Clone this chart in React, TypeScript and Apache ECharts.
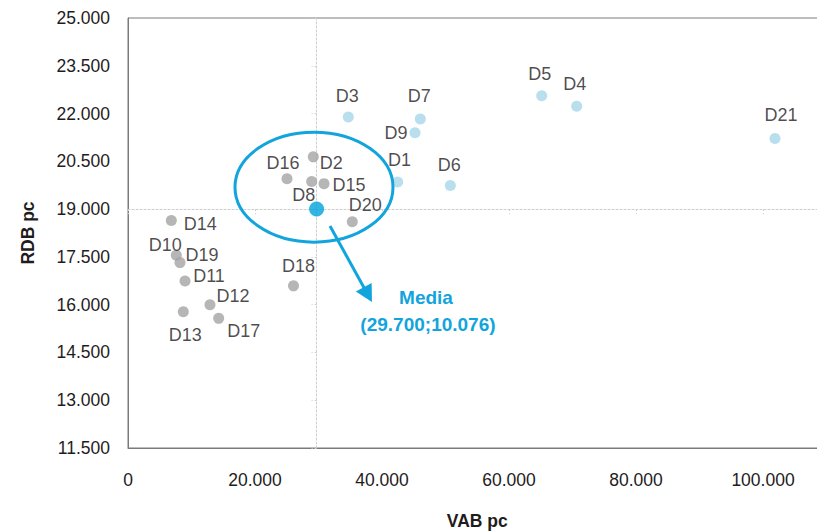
import React, { useEffect, useRef } from 'react';
import * as echarts from 'echarts';

// ---- data ----
const names = ['D1', 'D2', 'D3', 'D4', 'D5', 'D6', 'D7', 'D8', 'D9', 'D10', 'D11', 'D12', 'D13', 'D14', 'D15', 'D16', 'D17', 'D18', 'D19', 'D20', 'D21'];
const vabPc = [42460, 29180, 34690, 70660, 65150, 50760, 46030, 28930, 45200, 7610, 8980, 12910, 8710, 6820, 30870, 25040, 14280, 26060, 8190, 35320, 101890];
const rdbPc = [19850, 20640, 21890, 22230, 22560, 19740, 21830, 19870, 21400, 17550, 16740, 16000, 15780, 18640, 19800, 19950, 15570, 16590, 17320, 18600, 21220];
// districts drawn in light blue (the rest are grey)
const highlighted = ['D1', 'D3', 'D4', 'D5', 'D6', 'D7', 'D9', 'D21'];
const meanPoint = [29700, 19000];
const meanTitle = 'Media';
const meanValueText = '(29.700;10.076)';
const xAxisTitle = 'VAB pc';
const yAxisTitle = 'RDB pc';
const xMin = 0;
const xMax = 110000;
const xStep = 20000;
const yMin = 11500;
const yMax = 25000;
const yStep = 1500;

// ---- label placement (offset of each name label from its point, px) ----
const labelOffsets: Record<string, [number, number]> = {
  D1: [2, -22], D2: [18, 6], D3: [-1, -21], D4: [-2, -22], D5: [-2, -22], D6: [-1, -21],
  D7: [-1, -23], D8: [-8, 14], D9: [-19, 0], D10: [-11, -10], D11: [24, -5], D12: [23, -9],
  D13: [2, 23], D14: [29, 3], D15: [25, 1], D16: [-4, -16], D17: [25, 13], D18: [5, -20],
  D19: [22, -8], D20: [13, -17], D21: [6, -23],
};

const FONT = '"Liberation Sans", Arial, Helvetica, sans-serif';
const BLUE = '#12a4dc';
const LIGHT = '#a8d6e9';
const GRAY = '#a4a4a4';
const TEXT = '#1f1c1d';
const AXIS = '#7a7a7a';
const DOT = '#cfcfcf';

const fmt = (v: number) =>
  v === 0 ? '0' : Math.round(v).toString().replace(/\B(?=(\d{3})+(?!\d))/g, '.');

const GRID = { left: 128, top: 18, width: 698.5, height: 430 };

export default function App() {
  const ref = useRef<HTMLDivElement>(null);

  useEffect(() => {
    if (!ref.current) return;
    const chart = echarts.init(ref.current, null, { renderer: 'svg' });

    const points = names.map((n, i) => ({
      name: n,
      value: [vabPc[i], rdbPc[i]],
      itemStyle: { color: highlighted.includes(n) ? LIGHT : GRAY },
      label: { offset: labelOffsets[n] || [0, -20] },
    }));

    const xCrossOffset = -(GRID.height * (meanPoint[1] - yMin)) / (yMax - yMin);
    const yCrossOffset = -(GRID.width * (meanPoint[0] - xMin)) / (xMax - xMin);

    const crossLine = { show: true, onZero: false, lineStyle: { color: DOT, type: [2, 2], width: 1 } };
    const crossTick = { show: true, length: 5, lineStyle: { color: DOT, type: [2, 2], width: 1 } };

    chart.setOption({
      animation: false,
      grid: {
        ...GRID,
        containLabel: false,
        outerBoundsMode: 'none',
        show: true,
        borderColor: AXIS,
        borderWidth: 1,
        backgroundColor: 'transparent',
      },
      xAxis: [
        {
          type: 'value',
          min: xMin,
          max: xMax,
          interval: xStep,
          name: xAxisTitle,
          nameLocation: 'middle',
          nameGap: 64,
          nameTextStyle: { fontFamily: FONT, fontSize: 17.5, fontWeight: 'bold', color: TEXT },
          axisLine: { show: true, onZero: false, lineStyle: { color: AXIS } },
          axisTick: { show: false },
          splitLine: { show: false },
          axisLabel: {
            margin: 23,
            fontFamily: FONT,
            fontSize: 17.5,
            color: TEXT,
            formatter: (v: number) => (v % xStep === 0 ? fmt(v) : ''),
          },
        },
        {
          type: 'value',
          min: xMin,
          max: xMax,
          interval: xStep,
          position: 'bottom',
          offset: xCrossOffset,
          axisLine: crossLine,
          axisTick: crossTick,
          axisLabel: { show: false },
          splitLine: { show: false },
        },
      ],
      yAxis: [
        {
          type: 'value',
          min: yMin,
          max: yMax,
          interval: yStep,
          name: yAxisTitle,
          nameLocation: 'middle',
          nameGap: 91,
          nameTextStyle: { fontFamily: FONT, fontSize: 17.5, fontWeight: 'bold', color: TEXT },
          axisLine: { show: true, onZero: false, lineStyle: { color: AXIS } },
          axisTick: { show: false },
          splitLine: { show: false },
          axisLabel: {
            margin: 18,
            fontFamily: FONT,
            fontSize: 17.5,
            color: TEXT,
            formatter: (v: number) => fmt(v),
          },
        },
        {
          type: 'value',
          min: yMin,
          max: yMax,
          interval: yStep,
          position: 'left',
          offset: yCrossOffset,
          axisLine: crossLine,
          axisTick: crossTick,
          axisLabel: { show: false },
          splitLine: { show: false },
        },
      ],
      series: [
        {
          type: 'scatter',
          xAxisIndex: 0,
          yAxisIndex: 0,
          symbolSize: 11,
          data: points,
          label: {
            show: true,
            position: 'inside',
            formatter: '{b}',
            fontFamily: FONT,
            fontSize: 18,
            color: TEXT,
          },
          emphasis: { disabled: true },
          z: 3,
        },
        {
          type: 'scatter',
          xAxisIndex: 0,
          yAxisIndex: 0,
          symbolSize: 15,
          data: [{ name: meanTitle, value: meanPoint }],
          itemStyle: { color: '#00a2dd' },
          emphasis: { disabled: true },
          z: 4,
        },
      ],
    });

    // ---- annotations anchored to data coordinates ----
    const px = (x: number, y: number) =>
      chart.convertToPixel({ xAxisIndex: 0, yAxisIndex: 0 }, [x, y]) as number[];

    const ellipseCenter = px(29290, 19690);
    const arrowStart = px(31810, 18470);
    const arrowTip = px(38420, 16080);
    const titlePos = px(46930, 16240);
    const valuePos = px(47240, 15390);

    const dx = arrowTip[0] - arrowStart[0];
    const dy = arrowTip[1] - arrowStart[1];
    const len = Math.hypot(dx, dy);
    const ux = dx / len;
    const uy = dy / len;
    const headLen = 17;
    const headHalf = 9;
    const base = [arrowTip[0] - ux * headLen, arrowTip[1] - uy * headLen];
    const b1 = [base[0] + uy * headHalf, base[1] - ux * headHalf];
    const b2 = [base[0] - uy * headHalf, base[1] + ux * headHalf];

    chart.setOption({
      graphic: [
        {
          type: 'ellipse',
          shape: { cx: ellipseCenter[0], cy: ellipseCenter[1], rx: 79, ry: 55 },
          style: { fill: 'none', stroke: BLUE, lineWidth: 3 },
          z: 10,
        },
        {
          type: 'line',
          shape: { x1: arrowStart[0], y1: arrowStart[1], x2: base[0] + ux * 2, y2: base[1] + uy * 2 },
          style: { stroke: BLUE, lineWidth: 3 },
          z: 10,
        },
        {
          type: 'polygon',
          shape: { points: [arrowTip, b1, b2] },
          style: { fill: BLUE },
          z: 10,
        },
        {
          type: 'text',
          x: titlePos[0],
          y: titlePos[1],
          style: {
            text: meanTitle,
            fontFamily: FONT,
            fontSize: 19,
            fontWeight: 'bold',
            fill: BLUE,
            align: 'center',
            verticalAlign: 'middle',
          },
          z: 10,
        },
        {
          type: 'text',
          x: valuePos[0],
          y: valuePos[1],
          style: {
            text: meanValueText,
            fontFamily: FONT,
            fontSize: 19,
            fontWeight: 'bold',
            fill: BLUE,
            align: 'center',
            verticalAlign: 'middle',
          },
          z: 10,
        },
      ],
    });

    return () => chart.dispose();
  }, []);

  return (
    <div
      ref={ref}
      style={{ position: 'fixed', left: 0, top: 0, width: 817, height: 531, background: '#fff' }}
    />
  );
}
